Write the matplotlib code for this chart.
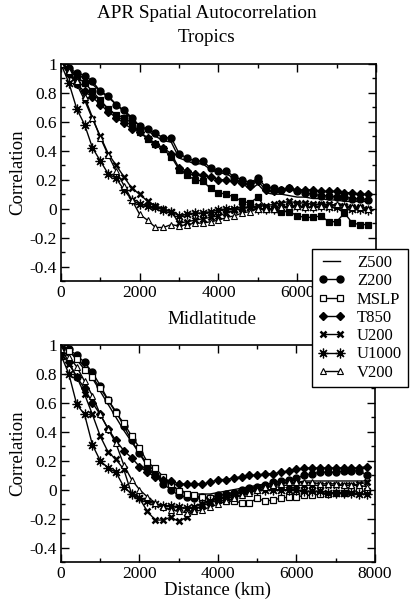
import matplotlib
matplotlib.use("Agg")
import matplotlib.pyplot as plt
from matplotlib.ticker import MultipleLocator, FixedLocator

plt.rcParams['font.family'] = ['Liberation Serif', 'DejaVu Serif']

distance_km = [0, 200, 400, 600, 800, 1000, 1200, 1400, 1600, 1800,
               2000, 2200, 2400, 2600, 2800, 3000, 3200, 3400, 3600, 3800,
               4000, 4200, 4400, 4600, 4800, 5000, 5200, 5400, 5600, 5800,
               6000, 6200, 6400, 6600, 6800, 7000, 7200, 7400, 7600, 7800]

series_names = ["Z500", "Z200", "MSLP", "T850", "U200", "U1000", "V200"]

# Tropics
z500_trop = [1.00, 0.96, 0.93, 0.90, 0.86, 0.81, 0.77, 0.72, 0.67, 0.62,
             0.57, 0.54, 0.50, 0.47, 0.46, 0.35, 0.33, 0.31, 0.31, 0.27,
             0.25, 0.24, 0.21, 0.18, 0.13, 0.17, 0.11, 0.10, 0.10, 0.09,
             0.08, 0.08, 0.07, 0.07, 0.06, 0.06, 0.05, 0.05, 0.05, 0.05]
z200_trop = [1.00, 0.97, 0.94, 0.92, 0.88, 0.81, 0.78, 0.72, 0.68, 0.63,
             0.57, 0.55, 0.52, 0.49, 0.49, 0.38, 0.35, 0.33, 0.33, 0.28,
             0.26, 0.26, 0.22, 0.20, 0.18, 0.21, 0.15, 0.14, 0.13, 0.14,
             0.12, 0.11, 0.10, 0.09, 0.09, 0.08, 0.08, 0.07, 0.07, 0.06]
mslp_trop = [1.00, 0.96, 0.91, 0.87, 0.81, 0.75, 0.69, 0.65, 0.63, 0.59,
             0.53, 0.48, 0.45, 0.41, 0.36, 0.27, 0.23, 0.20, 0.19, 0.14,
             0.11, 0.10, 0.08, 0.05, 0.04, 0.08, 0.00, 0.00, -0.02, -0.02,
             -0.05, -0.06, -0.06, -0.05, -0.09, -0.09, -0.03, -0.10, -0.11, -0.11]
t850_trop = [1.00, 0.93, 0.86, 0.81, 0.77, 0.72, 0.67, 0.63, 0.59, 0.55,
             0.53, 0.49, 0.45, 0.42, 0.38, 0.28, 0.26, 0.24, 0.23, 0.22,
             0.20, 0.20, 0.19, 0.18, 0.16, 0.19, 0.13, 0.12, 0.13, 0.14,
             0.13, 0.13, 0.13, 0.12, 0.12, 0.12, 0.11, 0.11, 0.10, 0.10]
u200_trop = [1.00, 0.95, 0.86, 0.75, 0.62, 0.50, 0.38, 0.30, 0.22, 0.14,
             0.10, 0.05, 0.02, 0.00, -0.02, -0.10, -0.09, -0.08, -0.07, -0.06,
             -0.05, -0.03, -0.01, 0.00, 0.01, 0.02, 0.02, 0.03, 0.04, 0.05,
             0.04, 0.04, 0.03, 0.03, 0.03, 0.02, 0.02, 0.01, 0.01, 0.00]
u1000_trop = [1.00, 0.87, 0.69, 0.58, 0.42, 0.33, 0.24, 0.21, 0.13, 0.06,
              0.03, 0.02, 0.01, -0.01, -0.02, -0.05, -0.04, -0.03, -0.03, -0.02,
              -0.01, 0.00, 0.00, 0.01, 0.01, 0.00, 0.00, 0.00, 0.01, 0.01,
              0.02, 0.01, 0.01, 0.02, 0.01, 0.01, 0.01, 0.00, 0.00, -0.01]
v200_trop = [1.00, 0.95, 0.88, 0.77, 0.63, 0.49, 0.37, 0.26, 0.16, 0.06,
             -0.04, -0.08, -0.13, -0.13, -0.11, -0.12, -0.11, -0.10, -0.10, -0.09,
             -0.08, -0.06, -0.05, -0.03, -0.02, 0.00, 0.00, 0.00, 0.01, 0.02,
             0.02, 0.01, 0.01, 0.02, 0.02, 0.03, 0.02, 0.01, 0.01, 0.00]

# Midlatitude
z500_mid = [1.00, 0.96, 0.91, 0.85, 0.77, 0.68, 0.59, 0.50, 0.41, 0.33,
            0.25, 0.18, 0.12, 0.07, 0.03, 0.00, -0.02, -0.03, -0.03, -0.03,
            -0.02, -0.01, 0.00, 0.01, 0.02, 0.03, 0.04, 0.04, 0.05, 0.05,
            0.05, 0.06, 0.06, 0.06, 0.06, 0.06, 0.06, 0.06, 0.06, 0.06]
z200_mid = [1.00, 0.97, 0.93, 0.88, 0.81, 0.72, 0.62, 0.54, 0.44, 0.34,
            0.25, 0.16, 0.10, 0.04, 0.00, -0.04, -0.05, -0.06, -0.05, -0.06,
            -0.04, -0.03, -0.02, 0.00, 0.01, 0.02, 0.03, 0.05, 0.06, 0.07,
            0.08, 0.10, 0.11, 0.12, 0.12, 0.12, 0.13, 0.13, 0.13, 0.10]
mslp_mid = [1.00, 0.96, 0.90, 0.83, 0.78, 0.70, 0.62, 0.53, 0.46, 0.37,
            0.29, 0.19, 0.15, 0.09, 0.04, -0.01, -0.03, -0.04, -0.05, -0.06,
            -0.07, -0.08, -0.08, -0.09, -0.09, -0.06, -0.08, -0.07, -0.06, -0.05,
            -0.05, -0.04, -0.04, -0.03, -0.03, -0.02, -0.02, -0.01, -0.01, -0.01]
t850_mid = [0.98, 0.88, 0.78, 0.70, 0.60, 0.52, 0.42, 0.34, 0.27, 0.22,
            0.16, 0.12, 0.09, 0.07, 0.06, 0.04, 0.04, 0.04, 0.04, 0.05,
            0.07, 0.07, 0.08, 0.09, 0.10, 0.10, 0.11, 0.11, 0.12, 0.13,
            0.14, 0.15, 0.15, 0.15, 0.15, 0.15, 0.15, 0.15, 0.15, 0.16]
u200_mid = [0.95, 0.87, 0.78, 0.66, 0.52, 0.37, 0.26, 0.21, 0.14, -0.03,
            -0.06, -0.15, -0.21, -0.21, -0.19, -0.22, -0.19, -0.14, -0.11, -0.09,
            -0.07, -0.05, -0.03, -0.01, 0.00, 0.01, 0.02, 0.02, 0.03, 0.03,
            0.03, 0.03, 0.03, 0.03, 0.03, 0.03, 0.03, 0.03, 0.04, 0.05]
u1000_mid = [0.93, 0.80, 0.59, 0.52, 0.31, 0.20, 0.15, 0.12, 0.02, -0.03,
             -0.06, -0.08, -0.10, -0.11, -0.11, -0.12, -0.13, -0.12, -0.10, -0.08,
             -0.06, -0.05, -0.04, -0.02, -0.01, 0.00, 0.00, 0.00, 0.00, 0.00,
             0.00, -0.01, -0.01, -0.01, -0.02, -0.02, -0.02, -0.02, -0.03, -0.03]
v200_mid = [0.97, 0.92, 0.85, 0.75, 0.65, 0.52, 0.42, 0.32, 0.17, 0.07,
            0.00, -0.05, -0.09, -0.12, -0.14, -0.15, -0.16, -0.15, -0.14, -0.12,
            -0.10, -0.08, -0.06, -0.04, -0.02, 0.00, 0.02, 0.03, 0.04, 0.05,
            0.05, 0.05, 0.05, 0.04, 0.04, 0.04, 0.03, 0.03, 0.03, 0.02]

trop = [z500_trop, z200_trop, mslp_trop, t850_trop, u200_trop, u1000_trop, v200_trop]
mid = [z500_mid, z200_mid, mslp_mid, t850_mid, u200_mid, u1000_mid, v200_mid]

yticks = [-0.4, -0.2, 0, 0.2, 0.4, 0.6, 0.8, 1]
ytick_labels = ["-0.4", "-0.2", "0", "0.2", "0.4", "0.6", "0.8", "1"]
xticks = [0, 2000, 4000, 6000, 8000]
xtick_labels_top = ["0", "2000", "4000", "6000", ""]   # 8000 is hidden by the legend
xtick_labels_bottom = ["0", "2000", "4000", "6000", "8000"]


def styles(filled_square):
    asterisk = (8, 2, 0)
    return [
        dict(marker=None),
        dict(marker='o', ms=5.0, mfc='black', mec='black'),
        dict(marker='s', ms=4.5, mfc='black' if filled_square else 'white', mec='black', mew=0.9),
        dict(marker='D', ms=3.7, mfc='black', mec='black'),
        dict(marker='x', ms=4.5, mec='black', mew=1.8),
        dict(marker=asterisk, ms=7, mec='black', mew=0.9),
        dict(marker='^', ms=4.5, mfc='white', mec='black', mew=0.8),
    ]


fig = plt.figure(figsize=(4.14, 6.01), dpi=100)
ax1 = fig.add_axes([61 / 414, 1 - 281 / 601, 315 / 414, 217 / 601])
ax2 = fig.add_axes([61 / 414, 1 - 562 / 601, 314 / 414, 217 / 601])

handles = []
for ax, data, filled, xl in [(ax1, trop, True, xtick_labels_top),
                             (ax2, mid, False, xtick_labels_bottom)]:
    st = styles(filled)
    for name, vals, s in zip(series_names, data, st):
        ln, = ax.plot(distance_km, vals, color='black', lw=1.0, label=name, **s)
        if ax is ax2:
            handles.append(ln)
    ax.set_xlim(0, 8000)
    ax.set_ylim(-0.5, 1.0)
    ax.xaxis.set_major_locator(FixedLocator(xticks))
    ax.set_xticklabels(xl)
    ax.xaxis.set_minor_locator(MultipleLocator(1000))
    ax.yaxis.set_major_locator(FixedLocator(yticks))
    ax.set_yticklabels(ytick_labels)
    ax.yaxis.set_minor_locator(MultipleLocator(0.1))
    ax.tick_params(which='both', direction='in', top=True, right=True,
                   labelsize=12.5, width=1.0, pad=3)
    ax.tick_params(which='major', length=5.5)
    ax.tick_params(which='minor', length=3)
    for sp in ax.spines.values():
        sp.set_linewidth(1.2)
    ax.set_ylabel("Correlation", fontsize=13.5, labelpad=2)

ax2.set_xlabel("Distance (km)", fontsize=13.5, labelpad=0)

fig.text(207 / 414, 1 - 14 / 601, "APR Spatial Autocorrelation", ha='center', va='center', fontsize=13.8)
fig.text(207 / 414, 1 - 38 / 601, "Tropics", ha='center', va='center', fontsize=13.8)
fig.text(212 / 414, 1 - 320 / 601, "Midlatitude", ha='center', va='center', fontsize=13.8)

leg = fig.legend(handles=handles, labels=series_names, loc='upper left',
                 bbox_to_anchor=(312 / 414, 1 - 249 / 601), bbox_transform=fig.transFigure,
                 borderaxespad=0, fontsize=12, numpoints=2, handlelength=1.65,
                 handletextpad=0.7, labelspacing=0.14, borderpad=0.35,
                 fancybox=False, framealpha=1, edgecolor='black')
leg.get_frame().set_linewidth(1.0)

fig.savefig("out.png", dpi=100)
